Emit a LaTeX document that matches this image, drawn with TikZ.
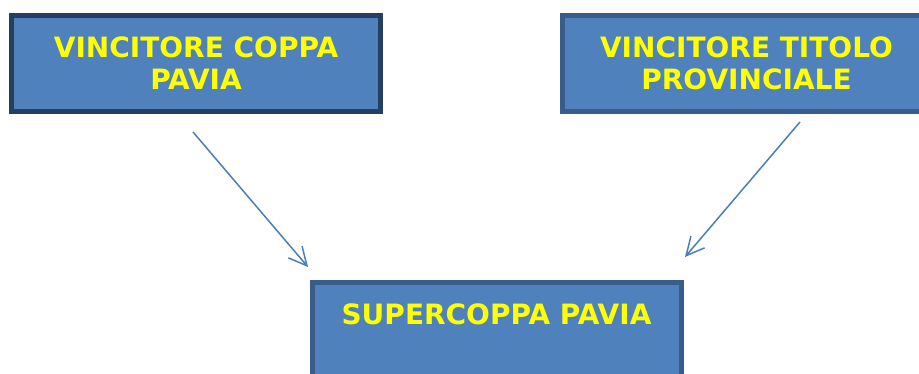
\documentclass[tikz,border=0pt]{standalone}
\usepackage{fontspec}
\newfontfamily\boxfont{DejaVu Sans}
\usetikzlibrary{arrows.meta}

\definecolor{boxfill}{HTML}{4F81BD}
\definecolor{boxedge}{HTML}{385D8A}
\definecolor{boxnavy}{HTML}{243F60}
\definecolor{arrowblue}{HTML}{4A7EBB}
\definecolor{labelyellow}{HTML}{FFFF00}

\begin{document}
\begin{tikzpicture}[x=1pt,y=-1pt,
              every node/.style={rectangle,draw=boxedge,fill=boxfill,line width=5pt,
              minimum width=369pt,minimum height=96pt,align=center,text=labelyellow,
              font=\boxfont\bfseries\fontsize{28}{32}\selectfont},
              >={Straight Barb[length=18pt,width=18pt]},
              every edge/.style={draw=arrowblue,line width=1.5pt}]
    \useasboundingbox (0,0) rectangle (919,374);
    \clip (0,0) rectangle (919,374);

    \node[draw=boxnavy] (coppa) at (196,63.5) {VINCITORE COPPA\\PAVIA};
    \node (titolo) at (746.5,63.5) {VINCITORE TITOLO\\PROVINCIALE};
    \node (super) at (496.5,330.5) {SUPERCOPPA PAVIA\\\mbox{}};

    \coordinate (coppaout) at (193,132);
    \coordinate (titoloout) at (800,122);
    \coordinate (superin1) at (308,267);
    \coordinate (superin2) at (685,257);

    \path [->] (coppaout) edge (superin1);
    \path [->] (titoloout) edge (superin2);
\end{tikzpicture}
\end{document}
